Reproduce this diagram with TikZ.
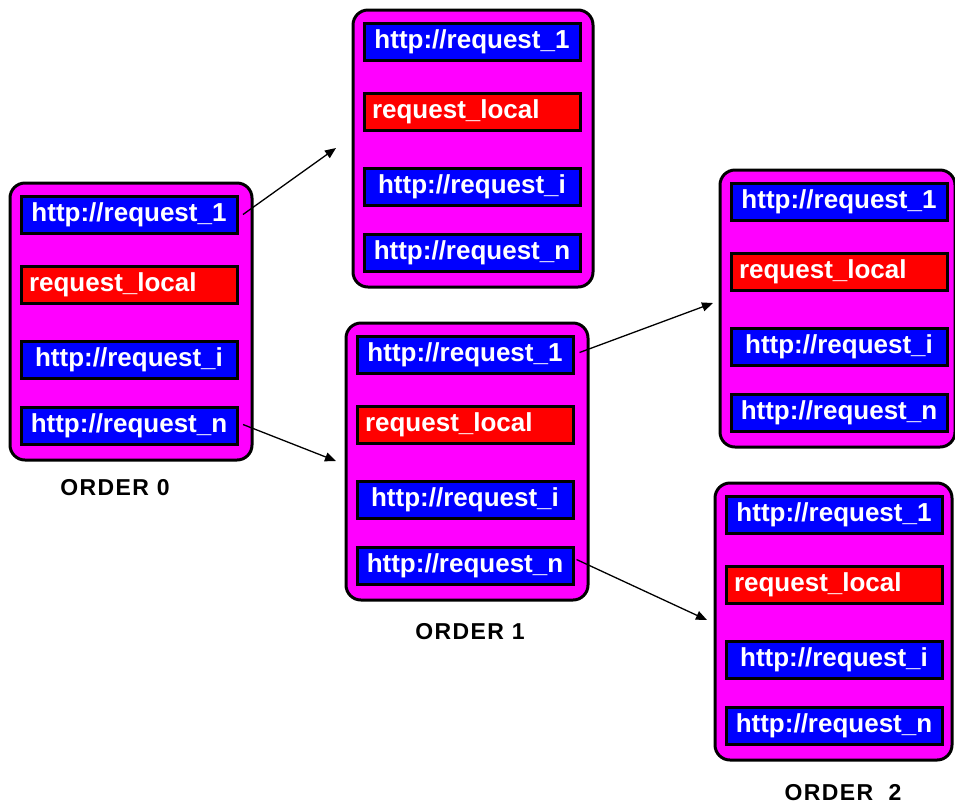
\documentclass[tikz,border=0pt]{standalone}
\usepackage{fontspec}
\setmainfont{Liberation Sans}
\newfontfamily\captionfont[LetterSpace=6]{Liberation Sans}
\usetikzlibrary{arrows.meta}

\definecolor{sitefill}{RGB}{255,0,255}
\definecolor{reqblue}{RGB}{0,0,255}
\definecolor{reqred}{RGB}{255,0,0}

\tikzset{
  site/.style={draw=black, fill=sitefill, line width=3pt, rounded corners=15pt,
    anchor=north west, inner sep=0pt, minimum height=277pt},
  remote/.style={draw=black, fill=reqblue, line width=3pt, text=white,
    font=\fontsize{26}{26}\selectfont\bfseries, minimum width=216pt,
    minimum height=37pt, inner sep=0pt, anchor=north west},
  localreq/.style={remote, fill=reqred, align=left, text width=200pt},
  link/.style={line width=1.3pt, -{Triangle[length=11pt,width=9pt]}},
  caption/.style={font=\captionfont\fontsize{23}{23}\selectfont\bfseries, anchor=center}
}

% one site: rounded box holding the four request slots
% #1 name, #2 left, #3 top, #4 box width
\newcommand\reqstack[4]{%
  \node[site, minimum width=#4pt] (#1) at (#2+1.5,#3+1.5) {};
  \node[remote]   (#1a) at (#2+12.5,#3+14.5)  {http://request\_1};
  \node[localreq] (#1b) at (#2+12.5,#3+84.5)  {request\_local};
  \node[remote]   (#1c) at (#2+12.5,#3+159.5) {http://request\_i};
  \node[remote]   (#1d) at (#2+12.5,#3+225.5) {http://request\_n};
}

\begin{document}
\begin{tikzpicture}[x=1pt,y=-1pt]
  \fill[white] (0,0) rectangle (955,807);
  \useasboundingbox (0,0) rectangle (955,807);

  \reqstack{o0}{7}{180}{242}
  \reqstack{o1}{350}{7}{240}
  \reqstack{o2}{343}{320}{242}
  \reqstack{o3}{717}{167}{235}
  \reqstack{o4}{712}{480}{237}

  \node[caption] (c0) at (115,488) {ORDER 0};
  \node[caption] (c1) at (470,632) {ORDER 1};
  \node[caption] (c2) at (843,793) {ORDER\ \ 2};

  \coordinate (t1) at (336,148);
  \coordinate (t2) at (336,461);
  \coordinate (t3) at (713,303);
  \coordinate (t4) at (707,620);

  \draw[link] ([xshift=4.5pt]o0a.east) -- (t1);
  \draw[link] ([xshift=4.5pt,yshift=1pt]o0d.east) -- (t2);
  \draw[link] ([xshift=5pt,yshift=2pt]o2a.east) -- (t3);
  \draw[link] ([xshift=2pt,yshift=6pt]o2d.east) -- (t4);
\end{tikzpicture}
\end{document}
